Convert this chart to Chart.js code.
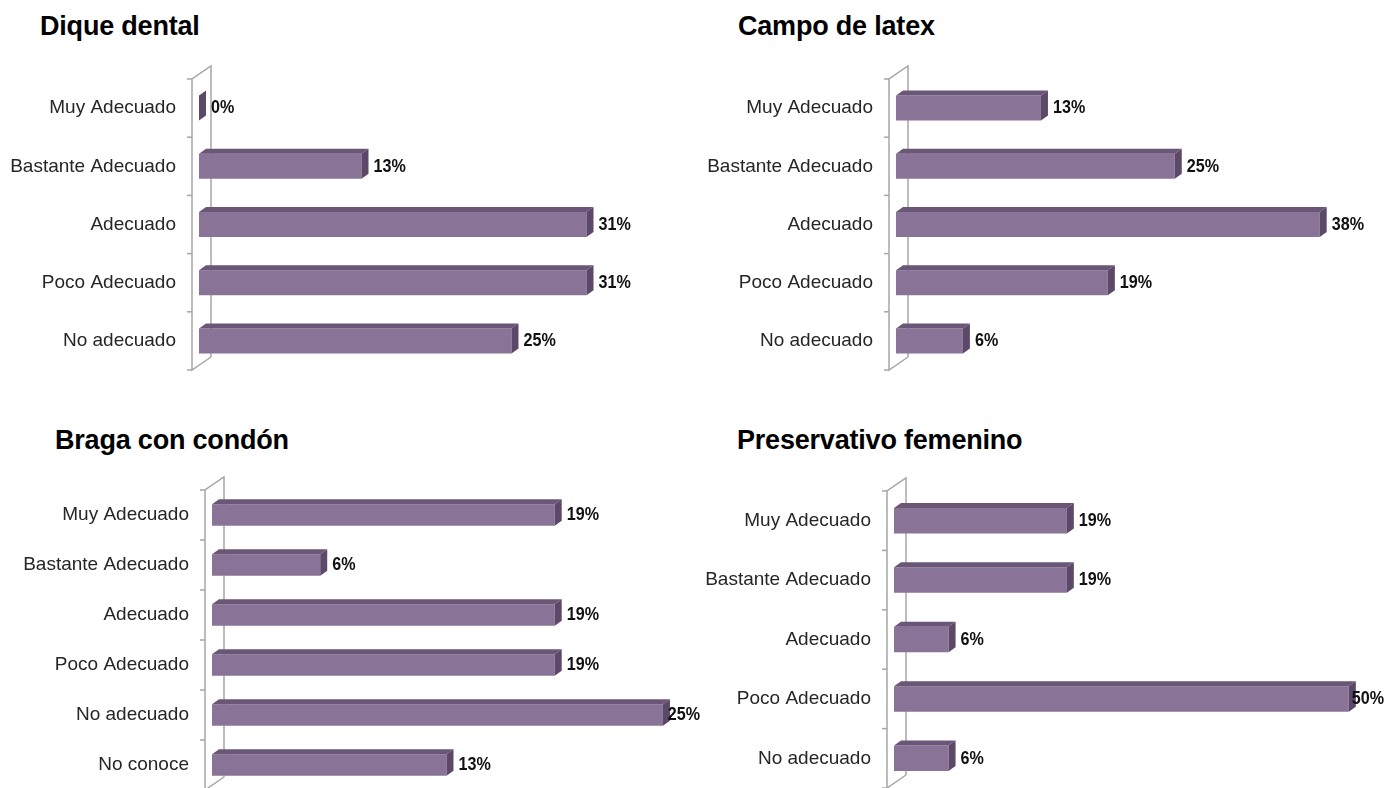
<!DOCTYPE html>
<html>
<head>
<meta charset="utf-8">
<script src="https://cdn.jsdelivr.net/npm/chart.js@4"></script>
<style>
  body { margin: 0; width: 1386px; height: 788px; overflow: hidden; background: #fff; position: relative; }
  canvas { position: absolute; }
  .title { position: absolute; font: bold 27px "Liberation Sans", Arial, sans-serif; letter-spacing: -0.2px; line-height: 1; color: #000; white-space: nowrap; }
</style>
</head>
<body>
<div class="title" style="left:40px; top:13px">Dique dental</div>
<div class="title" style="left:738px; top:13px">Campo de latex</div>
<div class="title" style="left:55px; top:427px">Braga con condón</div>
<div class="title" style="left:737px; top:427px">Preservativo femenino</div>
<canvas id="c1"></canvas>
<canvas id="c2"></canvas>
<canvas id="c3"></canvas>
<canvas id="c4"></canvas>
<script>
// categories
const cats5 = ['Muy Adecuado', 'Bastante Adecuado', 'Adecuado', 'Poco Adecuado', 'No adecuado'];
const cats6 = ['Muy Adecuado', 'Bastante Adecuado', 'Adecuado', 'Poco Adecuado', 'No adecuado', 'No conoce'];

// values (%)
const diqueValues = [0, 13, 31, 31, 25];
const campoValues = [13, 25, 38, 19, 6];
const bragaValues = [19, 6, 19, 19, 25, 13];
const preservativoValues = [19, 19, 6, 50, 6];

const BAR = '#897396', TOP = '#6a5677', SIDE = '#5c4868';
const DX = 7, DY = 5;

// 3d look: wall on the left, top and side faces, value labels
const bar3d = {
  id: 'bar3d',
  beforeDatasetsDraw(chart) {
    const ctx = chart.ctx, a = chart.chartArea;
    const outer = a.left - 7, inner = a.left + 12, d = 13;
    ctx.save();
    ctx.strokeStyle = '#a6a6a6';
    ctx.lineWidth = 1.5;
    ctx.beginPath();
    ctx.moveTo(inner, a.bottom - d);
    ctx.lineTo(outer, a.bottom);
    ctx.lineTo(outer, a.top);
    ctx.lineTo(inner, a.top - d);
    ctx.lineTo(inner, a.bottom - d);
    ctx.stroke();
    const n = chart.data.labels.length;
    for (let i = 0; i <= n; i++) {
      const y = a.top + i * (a.bottom - a.top) / n;
      ctx.beginPath();
      ctx.moveTo(outer - 5, y);
      ctx.lineTo(outer, y);
      ctx.stroke();
    }
    ctx.restore();
  },
  afterDatasetsDraw(chart) {
    const ctx = chart.ctx;
    const meta = chart.getDatasetMeta(0);
    const vals = chart.data.datasets[0].data;
    ctx.save();
    meta.data.forEach((bar, i) => {
      const p = bar.getProps(['x', 'y', 'base', 'height'], true);
      const top = p.y - p.height / 2, bottom = p.y + p.height / 2;
      ctx.fillStyle = TOP;
      ctx.beginPath();
      ctx.moveTo(p.base, top);
      ctx.lineTo(p.base + DX, top - DY);
      ctx.lineTo(p.x + DX, top - DY);
      ctx.lineTo(p.x, top);
      ctx.closePath();
      ctx.fill();
      ctx.fillStyle = SIDE;
      ctx.beginPath();
      ctx.moveTo(p.x, top);
      ctx.lineTo(p.x + DX, top - DY);
      ctx.lineTo(p.x + DX, bottom - DY);
      ctx.lineTo(p.x, bottom);
      ctx.closePath();
      ctx.fill();

      // narrow bold label
      const txt = vals[i] + '%';
      const sx = 0.85;
      ctx.font = 'bold 19px "Liberation Sans", Arial, sans-serif';
      ctx.fillStyle = '#111';
      ctx.textBaseline = 'middle';
      const w = ctx.measureText(txt).width * sx;
      const tx = Math.min(p.x + DX + 5, chart.width - w - 2);
      ctx.save();
      ctx.translate(tx, p.y);
      ctx.scale(sx, 1);
      ctx.fillText(txt, 0, 0);
      ctx.restore();
    });
    ctx.restore();
  }
};

function makeChart(id, labels, values, box) {
  const el = document.getElementById(id);
  el.style.left = box.left + 'px';
  el.style.top = box.top + 'px';
  el.width = box.width;
  el.height = box.height;
  return new Chart(el, {
    type: 'bar',
    data: {
      labels,
      datasets: [{ data: values, backgroundColor: BAR, barPercentage: 0.43, categoryPercentage: 1 }]
    },
    options: {
      indexAxis: 'y',
      responsive: false,
      animation: false,
      layout: { padding: { top: box.padTop, bottom: box.padBottom, right: box.padRight, left: 0 } },
      scales: {
        x: { display: false, min: 0, max: box.xMax },
        y: {
          grid: { display: false, drawTicks: false },
          border: { display: false },
          ticks: { padding: 23, color: '#262626', font: { size: 19, family: '"Liberation Sans", Arial, sans-serif' } },
          afterFit(s) {
            s.width = box.axisWidth;
            s.paddingTop = 0;
            s.paddingBottom = 0;
          }
        }
      },
      plugins: { legend: { display: false }, tooltip: { enabled: false } }
    },
    plugins: [bar3d]
  });
}

makeChart('c1', cats5, diqueValues, { left: 0, top: 60, width: 700, height: 330, axisWidth: 199, padTop: 19, padBottom: 20, padRight: 1, xMax: 40 });
makeChart('c2', cats5, campoValues, { left: 700, top: 60, width: 686, height: 330, axisWidth: 196, padTop: 19, padBottom: 20, padRight: 44, xMax: 40 });
makeChart('c3', cats6, bragaValues, { left: 0, top: 460, width: 702, height: 330, axisWidth: 212, padTop: 30, padBottom: 0, padRight: 3, xMax: 27 });
makeChart('c4', cats5, preservativoValues, { left: 706, top: 460, width: 680, height: 330, axisWidth: 188, padTop: 31, padBottom: 2, padRight: 19, xMax: 52 });
</script>
</body>
</html>
